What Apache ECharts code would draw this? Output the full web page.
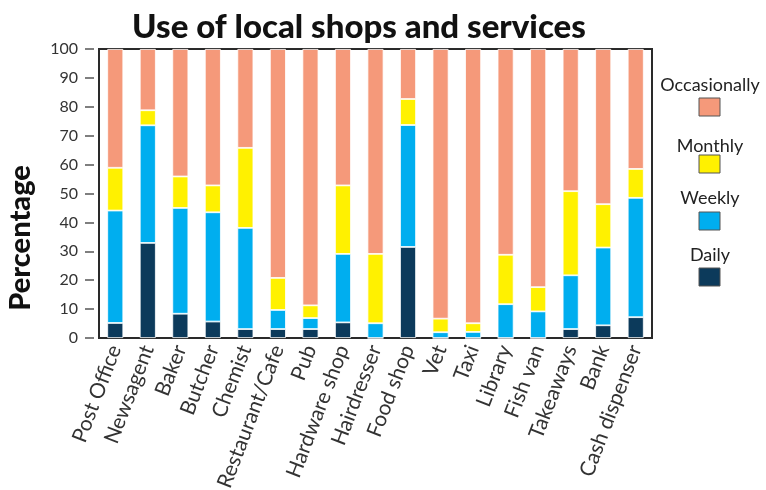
<!DOCTYPE html>
<html><head><meta charset="utf-8">
<script src="https://cdn.jsdelivr.net/npm/echarts@6/dist/echarts.min.js"></script>
<style>html,body{margin:0;padding:0;background:#fff}#c{width:766px;height:490px}</style>
</head><body><div id="c"></div>
<script>
const categories = ["Post Office","Newsagent","Baker","Butcher","Chemist","Restaurant/Cafe","Pub","Hardware shop","Hairdresser","Food shop","Vet","Taxi","Library","Fish van","Takeaways","Bank","Cash dispenser"];
const daily = [5.2, 32.9, 8.4, 5.7, 3.1, 3.1, 3.1, 5.4, 0, 31.5, 0, 0, 0, 0, 3.1, 4.4, 7.2];
const weekly = [38.9, 40.7, 36.6, 37.8, 35.0, 6.6, 3.8, 23.7, 5.1, 42.2, 2.0, 2.1, 11.7, 9.2, 18.6, 26.9, 41.3];
const monthly = [14.8, 5.2, 10.9, 9.3, 27.7, 11.1, 4.4, 23.7, 24.0, 9.0, 4.7, 3.0, 17.1, 8.4, 29.1, 15.0, 10.0];
const occasionally = [41.1, 21.2, 44.1, 47.2, 34.2, 79.2, 88.7, 47.2, 70.9, 17.3, 93.3, 94.9, 71.2, 82.4, 49.2, 53.7, 41.5];
const seriesNames = ["Daily","Weekly","Monthly","Occasionally"];
const seriesColors = ["#0C3A5B","#00AEEF","#FFF100","#F5997A"];
const seriesData = [daily, weekly, monthly, occasionally];
const yTicks = {min: 0, max: 100, interval: 10};

const FONT = 'Lato';
const chart = echarts.init(document.getElementById('c'), null, {renderer: 'canvas'});

const legendGraphics = [];
const legendOrder = [3, 2, 1, 0];
const legendTextY = [85, 146, 198, 255];
const legendBoxY = [98, 155, 212, 268];
legendOrder.forEach((si, i) => {
  legendGraphics.push({
    type: 'text', x: 710, y: legendTextY[i],
    style: {text: seriesNames[si], fill: '#222', font: '18px ' + FONT, textAlign: 'center', textVerticalAlign: 'middle'}
  });
  legendGraphics.push({
    type: 'rect', x: 699, y: legendBoxY[i],
    shape: {width: 21, height: 18},
    style: {fill: seriesColors[si], stroke: '#555', lineWidth: 1}
  });
});

const option = {
  backgroundColor: '#fff',
  animation: false,
  title: {
    text: 'Use of local shops and services', left: 354, top: 6, textAlign: 'center',
    textStyle: {fontFamily: FONT, fontWeight: 900, fontSize: 33, color: '#111'}
  },
  grid: {left: 99, right: 114, top: 49, bottom: 152, show: true, borderColor: '#2a2a2a', borderWidth: 2, backgroundColor: 'transparent', outerBoundsMode: 'none', containLabel: false},
  xAxis: {
    type: 'category', data: categories,
    axisLine: {show: false}, axisTick: {show: false},
    axisLabel: {rotate: 69, fontFamily: FONT, fontSize: 21, color: '#333', margin: 8, interval: 0}
  },
  yAxis: {
    type: 'value', min: yTicks.min, max: yTicks.max, interval: yTicks.interval,
    offset: 5,
    splitLine: {show: false},
    axisLine: {show: false},
    axisTick: {show: true, length: 9, lineStyle: {color: '#555', width: 1.5}},
    axisLabel: {fontFamily: FONT, fontSize: 16, color: '#333', margin: 16}
  },
  series: seriesNames.map((n, i) => ({
    name: n, type: 'bar', stack: 'all', data: seriesData[i], barWidth: 16,
    itemStyle: {color: seriesColors[i], borderColor: '#fff', borderWidth: 0.8}
  })),
  graphic: [
    {type: 'text', x: 21, y: 238, rotation: Math.PI / 2,
     style: {text: 'Percentage', fill: '#111', font: '900 29px ' + FONT, textAlign: 'center', textVerticalAlign: 'middle'}}
  ].concat(legendGraphics)
};
chart.setOption(option);
</script></body></html>
